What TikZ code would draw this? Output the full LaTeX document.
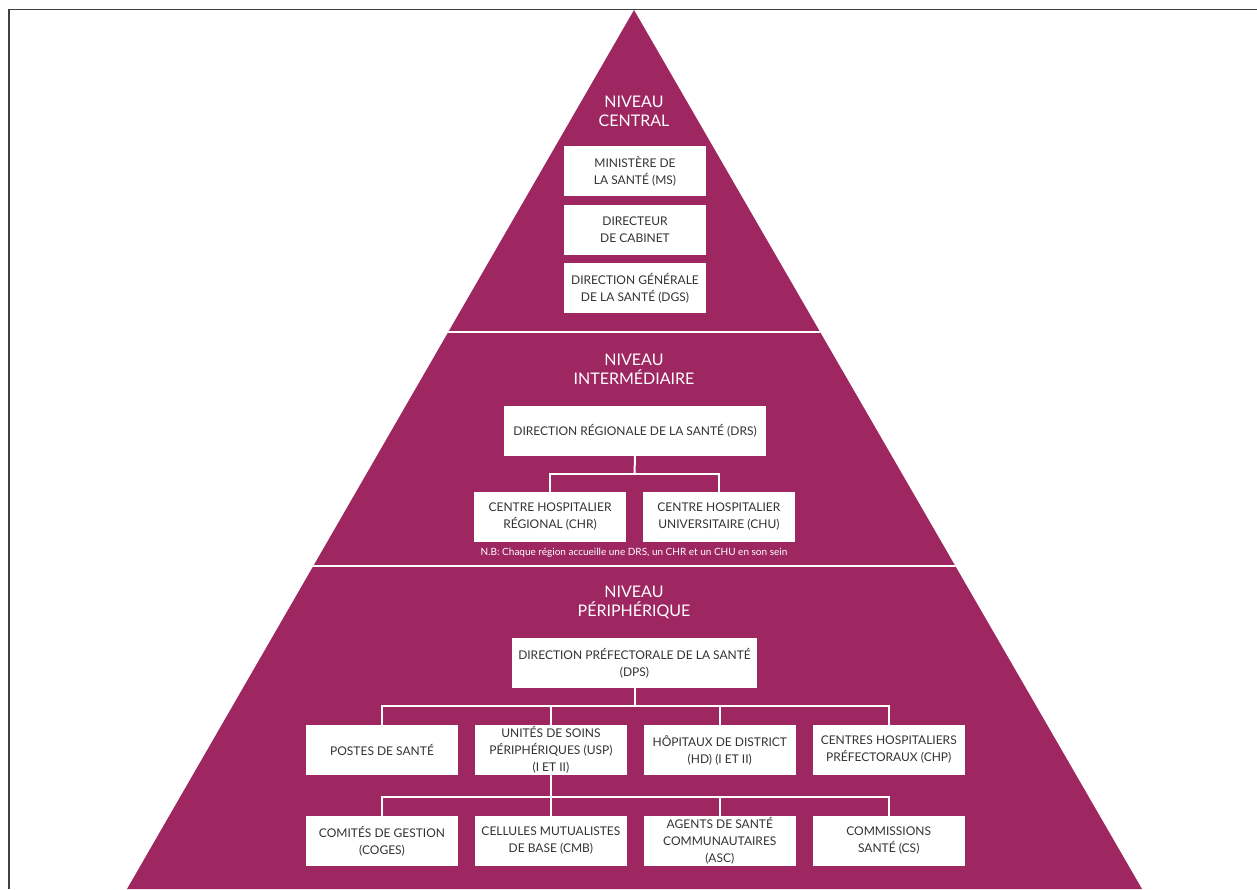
\documentclass[tikz,border=0pt]{standalone}
\usepackage{fontspec}
\setmainfont{Lato}
\usetikzlibrary{positioning}
\definecolor{PyramidPlum}{RGB}{158,39,97}
\definecolor{BoxText}{RGB}{51,51,51}

\begin{document}
\begin{tikzpicture}[x=1pt,y=1pt,
    level/.style={text=white,font=\fontsize{16}{19}\selectfont,align=center},
    unit/.style={rectangle,fill=white,text=BoxText,font=\fontsize{12}{17}\selectfont,align=center,minimum width=152pt,minimum height=50pt,inner sep=0pt},
    link/.style={draw=white,line width=2pt}]
    \useasboundingbox (0,0) rectangle (1257,889);
    \draw[line width=1.5pt,color=black!75] (9,0) -- (9,879.5) -- (1257,879.5);

    % pyramid and level separators
    \fill[PyramidPlum] (634,879) -- (127,0) -- (1142,0) -- cycle;
    \begin{scope}
        \clip (634,879) -- (127,0) -- (1142,0) -- cycle;
        \draw[white,line width=2.5pt] (0,557) -- (1257,557);
        \draw[white,line width=2.5pt] (0,323) -- (1257,323);
    \end{scope}

    % central level
    \node[level] (central) at (634,777.5) {NIVEAU\\CENTRAL};
    \node[unit,minimum width=142pt] (ms) at (635,717.5) {MINISTÈRE DE\\LA SANTÉ (MS)};
    \node[unit,minimum width=142pt,below=8pt of ms] (dc) {DIRECTEUR\\DE CABINET};
    \node[unit,minimum width=142pt,below=8pt of dc] (dgs) {DIRECTION GÉNÉRALE\\DE LA SANTÉ (DGS)};

    % intermediate level
    \node[level] (inter) at (634,519.5) {NIVEAU\\INTERMÉDIAIRE};
    \node[unit,minimum width=262pt] (drs) at (635,458) {DIRECTION RÉGIONALE DE LA SANTÉ (DRS)};
    \node[unit] (chr) at (550,372) {CENTRE HOSPITALIER\\RÉGIONAL (CHR)};
    \node[unit,right=16.5pt of chr] (chu) {CENTRE HOSPITALIER\\UNIVERSITAIRE (CHU)};
    \node[text=white,font=\fontsize{10}{12}\selectfont] (nb) at (634,336) {N.B: Chaque région accueille une DRS, un CHR et un CHU en son sein};
    \coordinate (drsbus) at (634.5,415);
    \draw[link] (drs.south) -- (drsbus);
    \draw[link] (chr.north) |- (drsbus) -| (chu.north);

    % peripheral level
    \node[level] (peri) at (634,287) {NIVEAU\\PÉRIPHÉRIQUE};
    \node[unit,minimum width=245pt] (dps) at (634.5,226) {DIRECTION PRÉFECTORALE DE LA SANTÉ\\(DPS)};
    \node[unit] (post) at (382,139) {POSTES DE SANTÉ};
    \node[unit,right=16.5pt of post] (usp) {UNITÉS DE SOINS\\PÉRIPHÉRIQUES (USP)\\(I ET II)};
    \node[unit,right=16.5pt of usp] (hd) {HÔPITAUX DE DISTRICT\\(HD) (I ET II)};
    \node[unit,right=16.5pt of hd] (chp) {CENTRES HOSPITALIERS\\PRÉFECTORAUX (CHP)};
    \node[unit] (coges) at (382,48) {COMITÉS DE GESTION\\(COGES)};
    \node[unit,right=16.5pt of coges] (cmb) {CELLULES MUTUALISTES\\DE BASE (CMB)};
    \node[unit,right=16.5pt of cmb] (asc) {AGENTS DE SANTÉ\\COMMUNAUTAIRES\\(ASC)};
    \node[unit,right=16.5pt of asc] (cs) {COMMISSIONS\\SANTÉ (CS)};

    \coordinate (dpsbus) at (634.5,183);
    \draw[link] (dps.south) -- (dpsbus);
    \draw[link] (post.north) |- (dpsbus) -| (chp.north);
    \draw[link] (usp.north) -- (usp.north |- dpsbus);
    \draw[link] (hd.north) -- (hd.north |- dpsbus);

    \coordinate (uspbus) at (550.5,92);
    \draw[link] (usp.south) -- (cmb.north);
    \draw[link] (coges.north) |- (uspbus) -| (cs.north);
    \draw[link] (asc.north) -- (asc.north |- uspbus);
\end{tikzpicture}
\end{document}
